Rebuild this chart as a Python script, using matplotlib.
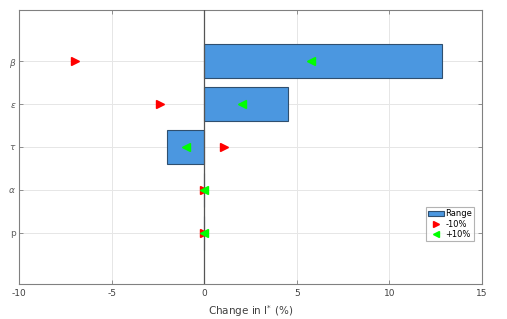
import numpy as np
import matplotlib.pyplot as plt
from matplotlib.lines import Line2D
from matplotlib.patches import Patch

# Data
params = ['p', r'$\alpha$', r'$\tau$', r'$\epsilon$', r'$\beta$']
range_lo = [0.0, 0.0, -2.0, 0.0, 0.0]
range_hi = [0.0, 0.0, 0.0, 4.55, 12.85]
minus10 = [0.0, 0.0, 1.05, -2.4, -7.0]
plus10 = [0.0, 0.0, -1.0, 2.05, 5.75]

bar_color = '#4b97e0'
edge_color = '#2f4f6f'
grid_gray = '#e6e6e6'
text_gray = '#404040'

fig = plt.figure(figsize=(5.07, 3.19), dpi=100)
ax = fig.add_axes([0.0375, 0.1097, 0.9132, 0.859])

y = np.arange(1, len(params) + 1)
widths = np.array(range_hi) - np.array(range_lo)
ax.barh(y, widths, left=range_lo, height=0.8, color=bar_color,
        edgecolor=edge_color, linewidth=0.8, zorder=3)
ax.axvline(0, color='#555555', linewidth=0.9, zorder=4)
ax.plot(minus10, y, linestyle='none', marker='>', color='red',
        markersize=5.5, zorder=5)
ax.plot(plus10, y, linestyle='none', marker='<', color='#00ff00',
        markersize=5.5, zorder=6)

ax.set_xlim(-10, 15)
ax.set_ylim(-0.19, 6.19)
ax.set_xticks([-10, -5, 0, 5, 10, 15])
ax.set_xticklabels(['-10', '-5', '0', '5', '10', '15'])
ax.set_yticks(y)
ax.set_yticklabels(params)
ax.grid(True, color=grid_gray, linewidth=0.7, zorder=0)
ax.set_axisbelow(True)

for s in ax.spines.values():
    s.set_color('#808080')
    s.set_linewidth(0.8)
ax.tick_params(direction='in', length=3, width=0.6, colors='#808080',
               labelcolor=text_gray, labelsize=6.5, top=True, right=True)
ax.tick_params(axis='y', pad=2, labelcolor='#606060')
ax.set_xlabel(r'Change in I$^{*}$ (%)', fontsize=7.5, color=text_gray, labelpad=4)

handles = [
    Patch(facecolor=bar_color, edgecolor=edge_color, linewidth=0.8),
    Line2D([], [], linestyle='none', marker='>', color='red', markersize=5),
    Line2D([], [], linestyle='none', marker='<', color='#00ff00', markersize=5),
]
leg = ax.legend(handles, ['Range', '-10%', '+10%'], loc='lower right',
                bbox_to_anchor=(0.983, 0.157), fontsize=6, frameon=True,
                fancybox=False, handlelength=1.9, handletextpad=0.2,
                borderpad=0.25, labelspacing=0.15, borderaxespad=0)
leg.get_frame().set_edgecolor('#a0a0a0')
leg.get_frame().set_linewidth(0.8)

fig.savefig('out.png', dpi=100)
